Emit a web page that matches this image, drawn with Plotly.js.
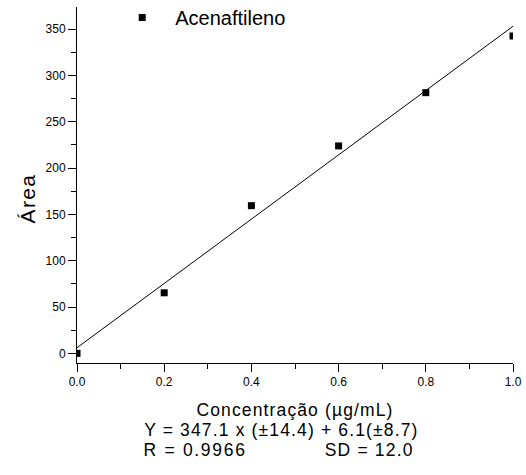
<!DOCTYPE html>
<html>
<head>
<meta charset="utf-8">
<script src="https://cdn.plot.ly/plotly-3.0.1.min.js"></script>
<style>
html,body{margin:0;padding:0;background:#fff;}
#chart{width:526px;height:475px;}
#chart .g-xtitle text{letter-spacing:1.13px;}
#chart .annotation[data-index="0"] .annotation-text{letter-spacing:1.15px;}
#chart .annotation[data-index="1"] .annotation-text{letter-spacing:1.69px;}
#chart .annotation[data-index="2"] .annotation-text{letter-spacing:1.19px;}
#chart .annotation[data-index="3"] .annotation-text{letter-spacing:1.4px;}
</style>
</head>
<body>
<div id="chart"></div>
<script>
// Data
const concentration = [0.0, 0.2, 0.4, 0.6, 0.8, 1.0];
const area = [0, 65.4, 159.5, 224, 281.5, 342.7];
const fitX = [0.0, 1.0];
const fitY = [6.1, 353.2];
const seriesName = 'Acenaftileno';
const xTitle = 'Concentração (µg/mL)';
const yTitle = 'Área';
const equationLine = 'Y = 347.1 x (±14.4) + 6.1(±8.7)';
const rText = 'R = 0.9966';
const sdText = 'SD = 12.0';

const FONT = '"Liberation Sans", Arial, Helvetica, sans-serif';

const traces = [
  {
    x: concentration, y: area, type: 'scatter', mode: 'markers', name: seriesName,
    marker: {symbol: 'square', size: 7, color: '#000'},
    cliponaxis: true
  },
  {
    x: fitX, y: fitY, type: 'scatter', mode: 'lines', name: 'fit', showlegend: false,
    line: {color: '#000', width: 1}
  }
];

const layout = {
  width: 526, height: 475,
  margin: {l: 77, r: 13, t: 7, b: 112, autoexpand: false},
  paper_bgcolor: '#fff', plot_bgcolor: '#fff',
  font: {family: FONT, color: '#000'},
  showlegend: true,
  legend: {
    x: 0.0739, y: 1.0253, xanchor: 'left', yanchor: 'top',
    font: {size: 20, family: FONT, color: '#000'},
    bgcolor: 'rgba(0,0,0,0)', itemwidth: 56, borderwidth: 0
  },
  xaxis: {
    range: [0, 1], tickvals: [0, 0.2, 0.4, 0.6, 0.8, 1.0], ticktext: ['0.0','0.2','0.4','0.6','0.8','1.0'],
    ticks: 'outside', ticklen: 8, tickwidth: 1, tickcolor: '#000',
    minor: {dtick: 0.1, ticks: 'outside', ticklen: 5, tickwidth: 1, tickcolor: '#000', showgrid: false},
    showline: true, linecolor: '#000', linewidth: 1, mirror: false,
    showgrid: false, zeroline: false,
    tickfont: {size: 12, family: FONT},
    title: {text: xTitle, font: {size: 17.5, family: FONT}, standoff: 15}
  },
  yaxis: {
    range: [-10.4, 374], tickvals: [0, 50, 100, 150, 200, 250, 300, 350],
    ticks: 'outside', ticklen: 8, tickwidth: 1, tickcolor: '#000',
    minor: {dtick: 25, ticks: 'outside', ticklen: 5, tickwidth: 1, tickcolor: '#000', showgrid: false},
    showline: true, linecolor: '#000', linewidth: 1, mirror: false,
    showgrid: false, zeroline: false,
    tickfont: {size: 12, family: FONT}
  },
  annotations: [
    {text: equationLine, xref: 'paper', yref: 'paper', x: 0.1486, y: -0.1882, xanchor: 'left', yanchor: 'middle',
     xshift: 18, showarrow: false, font: {size: 17.5, family: FONT, color: '#000'}},
    {text: rText, xref: 'paper', yref: 'paper', x: 0.1486, y: -0.2444, xanchor: 'left', yanchor: 'middle',
     xshift: 8.5, showarrow: false, font: {size: 17.5, family: FONT, color: '#000'}},
    {text: sdText, xref: 'paper', yref: 'paper', x: 0.564, y: -0.2444, xanchor: 'left', yanchor: 'middle',
     xshift: 5.4, showarrow: false, font: {size: 17.5, family: FONT, color: '#000'}},
    {text: yTitle, xref: 'paper', yref: 'paper', x: -0.113, y: 0.4635, xanchor: 'center', yanchor: 'middle',
     textangle: -90, showarrow: false, font: {size: 21, family: FONT, color: '#000'}}
  ]
};

Plotly.newPlot('chart', traces, layout, {displayModeBar: false, staticPlot: true});
</script>
</body>
</html>
